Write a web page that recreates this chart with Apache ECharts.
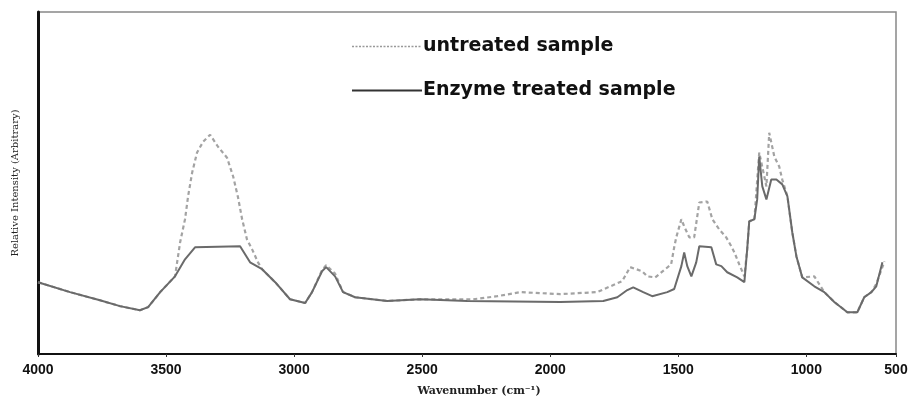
<!DOCTYPE html>
<html>
<head>
<meta charset="utf-8">
<script src="https://cdn.jsdelivr.net/npm/echarts@6/dist/echarts.min.js"></script>
<style>
  html, body { margin: 0; padding: 0; background: #fff; }
  #main { width: 914px; height: 402px; }
</style>
</head>
<body>
<div id="main"></div>
<script>
// wavenumber (cm-1) and relative intensity
var untreatedWn = [4000, 3875, 3758, 3680, 3602, 3570, 3523, 3465, 3445, 3426, 3414, 3398, 3379, 3355, 3328, 3297, 3262, 3238, 3219, 3203, 3184, 3164, 3141, 3125, 3074, 3016, 2957, 2930, 2891, 2875, 2840, 2809, 2762, 2637, 2508, 2301, 2207, 2117, 1961, 1817, 1719, 1688, 1641, 1621, 1590, 1528, 1516, 1508, 1488, 1477, 1457, 1438, 1418, 1387, 1367, 1340, 1313, 1293, 1281, 1262, 1242, 1231, 1223, 1203, 1184, 1156, 1145, 1125, 1106, 1094, 1074, 1055, 1039, 1016, 969, 930, 891, 840, 801, 774, 746, 727, 695];
var untreatedVal = [21.0, 18.1, 15.7, 14.0, 12.8, 13.7, 18.1, 22.7, 32.7, 39.4, 46.1, 53.1, 58.9, 62.1, 64.1, 60.6, 57.4, 51.9, 45.8, 39.4, 33.5, 30.6, 26.8, 24.8, 21.0, 16.0, 14.9, 18.1, 24.5, 26.0, 23.5, 18.1, 16.6, 15.5, 16.0, 16.0, 16.9, 18.1, 17.5, 18.1, 21.3, 25.4, 24.2, 22.7, 22.4, 26.2, 31.2, 34.1, 39.4, 37.3, 34.1, 34.1, 44.3, 44.6, 39.4, 36.4, 34.1, 31.5, 29.7, 26.2, 22.7, 30.6, 38.8, 39.4, 58.9, 49.0, 64.7, 57.7, 54.8, 51.0, 46.1, 35.6, 28.6, 22.4, 22.7, 18.1, 15.2, 12.2, 12.2, 16.6, 18.1, 20.5, 27.1];

var treatedWn = [4000, 3875, 3758, 3680, 3602, 3570, 3523, 3465, 3426, 3387, 3211, 3172, 3125, 3074, 3016, 2957, 2930, 2891, 2875, 2840, 2809, 2762, 2637, 2508, 2324, 1961, 1793, 1738, 1699, 1676, 1637, 1602, 1543, 1516, 1488, 1477, 1465, 1449, 1430, 1418, 1371, 1352, 1332, 1309, 1270, 1242, 1231, 1223, 1203, 1192, 1184, 1172, 1156, 1137, 1117, 1094, 1074, 1055, 1039, 1016, 969, 930, 891, 840, 801, 774, 746, 727, 703];
var treatedVal = [21.0, 18.1, 15.7, 14.0, 12.8, 13.7, 18.1, 22.7, 27.7, 31.2, 31.5, 26.8, 24.8, 21.0, 16.0, 14.9, 18.1, 24.2, 25.4, 22.7, 18.1, 16.6, 15.5, 16.0, 15.5, 15.2, 15.5, 16.6, 18.7, 19.5, 18.1, 16.9, 18.1, 19.0, 25.7, 29.7, 25.7, 22.7, 26.8, 31.5, 31.2, 26.2, 25.7, 23.9, 22.4, 21.0, 30.6, 38.8, 39.4, 45.2, 57.7, 49.0, 45.2, 51.0, 51.0, 49.6, 46.1, 35.6, 28.6, 22.4, 19.8, 18.1, 15.2, 12.2, 12.2, 16.6, 18.1, 19.8, 26.8];

var tickValues = [4000, 3500, 3000, 2500, 2000, 1500, 1000, 650];
var tickLabels = ['4000', '3500', '3000', '2500', '2000', '1500', '1000', '500'];

function pairs(xs, ys) {
  return xs.map(function (x, i) { return [x, ys[i]]; });
}

var myChart = echarts.init(document.getElementById('main'));

var option = {
  animation: false,
  backgroundColor: '#fff',
  grid: {
    left: 38, right: 18, top: 12, bottom: 47,
    show: true,
    borderColor: '#888',
    borderWidth: 1.5
  },
  legend: {
    orient: 'vertical',
    left: 346,
    top: 32,
    itemGap: 25,
    itemWidth: 70,
    itemHeight: 14,
    itemStyle: { opacity: 0 },
    textStyle: {
      fontFamily: 'DejaVu Sans',
      fontWeight: 'bold',
      fontSize: 19,
      color: '#111',
      padding: [0, 0, 0, -4]
    },
    data: [
      { name: 'untreated sample', lineStyle: { type: [2, 1.5], width: 1.5, color: '#999' } },
      { name: 'Enzyme treated sample', lineStyle: { width: 2, color: '#333' } }
    ]
  },
  xAxis: {
    type: 'value',
    inverse: true,
    min: 650,
    max: 4000,
    name: 'Wavenumber (cm⁻¹)',
    nameLocation: 'middle',
    nameGap: 32,
    nameTextStyle: {
      fontFamily: 'DejaVu Serif',
      fontSize: 11,
      fontWeight: 'bold',
      color: '#222',
      padding: [0, 0, 0, 24]
    },
    axisLine: { lineStyle: { color: '#111', width: 2 } },
    axisTick: {
      length: 3,
      lineStyle: { color: '#333' },
      customValues: tickValues
    },
    axisLabel: {
      customValues: tickValues,
      margin: 9,
      fontFamily: 'Liberation Sans',
      fontWeight: 'bold',
      fontSize: 14,
      color: '#111',
      formatter: function (v) {
        var i = tickValues.indexOf(v);
        return i >= 0 ? tickLabels[i] : '';
      }
    },
    splitLine: { show: false }
  },
  yAxis: {
    type: 'value',
    min: 0,
    max: 100,
    name: 'Relative Intensity (Arbitrary)',
    nameLocation: 'middle',
    nameRotate: 90,
    nameGap: 18,
    nameTextStyle: {
      fontFamily: 'DejaVu Serif',
      fontSize: 10,
      color: '#222'
    },
    axisLine: { show: true, lineStyle: { color: '#111', width: 3 } },
    axisTick: { show: false },
    axisLabel: { show: false },
    splitLine: { show: false }
  },
  series: [
    {
      name: 'untreated sample',
      type: 'line',
      symbol: 'none',
      data: pairs(untreatedWn, untreatedVal),
      lineStyle: { color: '#a3a3a3', width: 2.2, type: [4, 3] },
      itemStyle: { color: '#a3a3a3' }
    },
    {
      name: 'Enzyme treated sample',
      type: 'line',
      symbol: 'none',
      data: pairs(treatedWn, treatedVal),
      lineStyle: { color: '#6a6a6a', width: 2 },
      itemStyle: { color: '#444' }
    }
  ]
};

myChart.setOption(option);
</script>
</body>
</html>
